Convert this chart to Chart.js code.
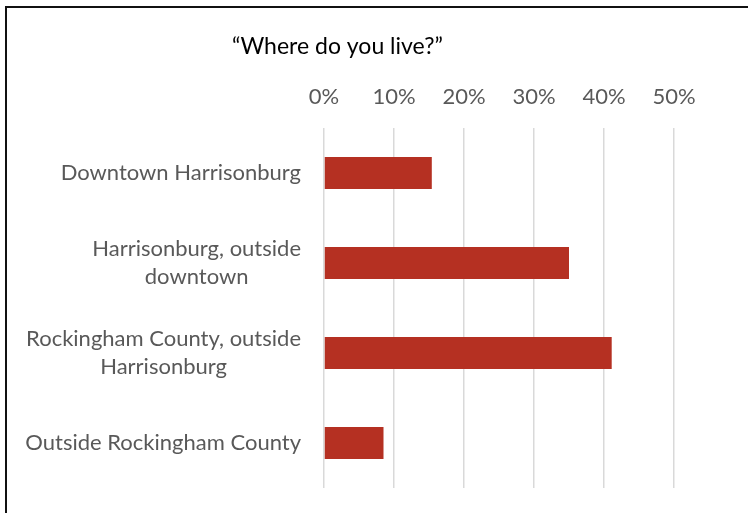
<!DOCTYPE html>
<html>
<head>
<meta charset="utf-8">
<script src="https://cdn.jsdelivr.net/npm/chart.js@4"></script>
<style>
  html, body { margin: 0; padding: 0; background: #fff; }
  #wrap { position: relative; width: 748px; height: 513px; }
  #frame { position: absolute; left: 5px; top: 6px; right: 0; bottom: 0;
           border-top: 2px solid #111; border-left: 2px solid #111; pointer-events: none; }
</style>
</head>
<body>
<div id="wrap">
  <canvas id="grafico" width="748" height="513"></canvas>
  <div id="frame"></div>
</div>
<script>
const titulo = '\u201CWhere do you live?\u201D';
const categorias = [
  ['Downtown Harrisonburg'],
  ['Harrisonburg, outside', 'downtown'],
  ['Rockingham County, outside', 'Harrisonburg'],
  ['Outside Rockingham County']
];
const valores = [15.4, 35.0, 41.1, 8.5];
const eixoMax = 50;
const passo = 10;

const fonte = 'Lato, "Open Sans", sans-serif';

// rótulos das categorias: bloco alinhado à direita, linhas centradas entre si
const rotulosY = {
  id: 'rotulosY',
  afterDraw(chart) {
    const ctx = chart.ctx;
    const y = chart.scales.y;
    const dirX = y.right - 23;
    const alturaLinha = 28;
    ctx.save();
    ctx.font = '22px ' + fonte;
    ctx.fillStyle = '#595959';
    ctx.textAlign = 'center';
    ctx.textBaseline = 'middle';
    categorias.forEach((linhas, i) => {
      const larg = Math.max(...linhas.map(l => ctx.measureText(l).width));
      const cx = dirX - larg / 2;
      const cy = y.getPixelForTick(i);
      const y0 = cy - (linhas.length - 1) * alturaLinha / 2;
      linhas.forEach((l, k) => ctx.fillText(l, cx, y0 + k * alturaLinha));
    });
    ctx.restore();
  }
};

// título fica à esquerda, como no gráfico original
const tituloPlugin = {
  id: 'tituloPlugin',
  afterDraw(chart) {
    const ctx = chart.ctx;
    ctx.save();
    ctx.font = '23px ' + fonte;
    ctx.fillStyle = '#000';
    ctx.textAlign = 'left';
    ctx.textBaseline = 'middle';
    ctx.fillText(titulo, 232, 47);
    ctx.restore();
  }
};

new Chart(document.getElementById('grafico'), {
  type: 'bar',
  data: {
    labels: categorias,
    datasets: [{
      data: valores,
      backgroundColor: '#b53022',
      borderWidth: 0,
      barPercentage: 0.356,
      categoryPercentage: 1
    }]
  },
  options: {
    indexAxis: 'y',
    responsive: false,
    animation: false,
    layout: { padding: { top: 80, right: 74, bottom: 25, left: 0 } },
    plugins: {
      legend: { display: false },
      tooltip: { enabled: false }
    },
    scales: {
      x: {
        position: 'top',
        min: 0,
        max: eixoMax,
        afterFit(s) { s.height = 48; },
        ticks: {
          stepSize: passo,
          padding: 18,
          color: '#595959',
          font: { family: fonte, size: 22 },
          callback: v => v + '%'
        },
        grid: { color: '#d9d9d9', lineWidth: 1.5, drawTicks: false },
        border: { display: false }
      },
      y: {
        afterFit(s) { s.width = 324; },
        ticks: { display: false },
        grid: { display: false, drawTicks: false },
        border: { display: false }
      }
    }
  },
  plugins: [rotulosY, tituloPlugin]
});
</script>
</body>
</html>
